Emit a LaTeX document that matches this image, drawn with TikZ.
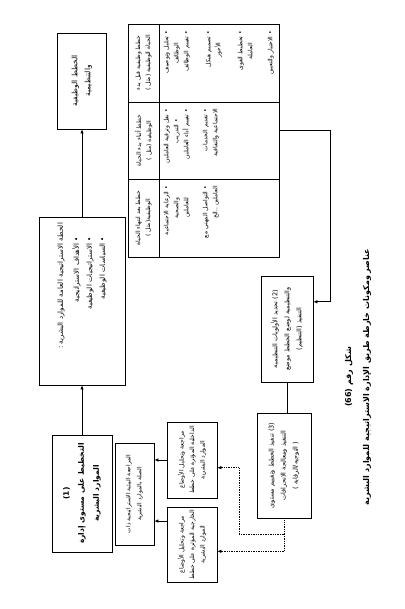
\documentclass[tikz,border=0pt]{standalone}
\usepackage{fontspec}
\setmainfont{DejaVu Sans}
\newfontfamily\arabicfont[Script=Arabic]{DejaVu Sans}
\TeXXeTstate=1
\usepackage{tikz}
\usetikzlibrary{arrows.meta,calc}
\newcommand{\artxt}[1]{\beginR #1\endR}

\begin{document}
\begin{tikzpicture}[x=1pt, y=-1pt,
        boxStyle/.style={draw, line width=0.7pt, rotate=90, align=center, inner sep=2pt, font=\arabicfont\fontsize{7}{13}\selectfont},
        cellStyle/.style={draw, line width=0.7pt, rotate=90, inner sep=0pt},
        cellText/.style={rotate=90, inner sep=0pt, align=right, font=\arabicfont\fontsize{6}{10}\selectfont},
        arrowStyle/.style={-{Latex[length=4pt,width=3.5pt]}, line width=0.7pt},
        dotLine/.style={densely dotted, line width=0.8pt}
    ]
    \useasboundingbox (0,0) rectangle (404,609);

    % Top: plans
    \node[boxStyle, minimum width=96, minimum height=49, font=\arabicfont\fontsize{7.5}{13}\selectfont] (plans) at (82,81) {
        \artxt{الخطط الوظيفية}\\
        \artxt{والتنظيمية}
    };

    % General HR plan
    \node[boxStyle, minimum width=168, minimum height=86, text width=156, align=right] (hrPlan) at (82,301) {
        \artxt{الخطة الاستراتيجية العامة للموارد البشرية :}\\[3pt]
        \artxt{\kern14pt• الأهداف الاستراتيجية}\\
        \artxt{\kern14pt• الاستراتيجيات الوظيفية}\\
        \artxt{\kern14pt• السياسات الوظيفية}
    };

    % Step 1
    \node[boxStyle, minimum width=117, minimum height=60, font=\arabicfont\bfseries\fontsize{7.5}{15}\selectfont] (level1) at (82,493.5) {
        \artxt{(1)}\\
        \artxt{التخطيط على مستوى إدارة}\\
        \artxt{الموارد البشرية}
    };

    % Environmental review
    \node[boxStyle, minimum width=102, minimum height=39, font=\arabicfont\fontsize{5.8}{11}\selectfont] (envReview) at (134.5,494) {
        \artxt{المراجعة البيئية الاستراتيجية ذات}\\
        \artxt{الصلة بالموارد البشرية}
    };

    % Internal / external review
    \node[boxStyle, minimum width=76, minimum height=50, font=\arabicfont\fontsize{6}{10.5}\selectfont] (internalRev) at (192,460) {
        \artxt{مراجعة وتحليل الأوضاع}\\
        \artxt{الداخلية المؤثرة على خطط}\\
        \artxt{الموارد البشرية}
    };
    \node[boxStyle, minimum width=75, minimum height=50, font=\arabicfont\fontsize{6}{10.5}\selectfont] (externalRev) at (192,544.5) {
        \artxt{مراجعة وتحليل الأوضاع}\\
        \artxt{الخارجية المؤثرة على خطط}\\
        \artxt{الموارد البشرية}
    };

    % Table of functional plans
    \node[cellStyle, minimum width=78, minimum height=31] (headBefore) at (143.5,63) {};
    \node[cellStyle, minimum width=77, minimum height=31] (headDuring) at (143.5,140.5) {};
    \node[cellStyle, minimum width=78, minimum height=31] (headAfter) at (143.5,218) {};
    \node[cellStyle, minimum width=78, minimum height=120] (bodyBefore) at (219,63) {};
    \node[cellStyle, minimum width=77, minimum height=120] (bodyDuring) at (219,140.5) {};
    \node[cellStyle, minimum width=78, minimum height=120] (bodyAfter) at (219,218) {};

    \node[cellText, align=center] (headBeforeTxt) at (headBefore) {
        \artxt{خطط وظيفية قبل بدء}\\
        \artxt{الحياة الوظيفية (مثل )}
    };
    \node[cellText, align=center] (headDuringTxt) at (headDuring) {
        \artxt{خطط أثناء بدء الحياة}\\
        \artxt{الوظيفية (مثل )}
    };
    \node[cellText, align=center] (headAfterTxt) at (headAfter) {
        \artxt{خطط بعد انتهاء الحياة}\\
        \artxt{الوظيفية(مثل )}
    };

    \node[cellText, anchor=north east, text width=66] (bodyBeforeTxt) at ($(bodyBefore.north east)+(5,7)$) {
        \artxt{• تحليل وتوصيف}\\
        \artxt{\kern12pt الوظائف}\\
        \artxt{• تقييم الوظائف}\\[12pt]
        \artxt{• تصميم هيكل}\\
        \artxt{\kern12pt الأجور}\\[12pt]
        \artxt{• تخطيط القوى}\\
        \artxt{\kern12pt العاملة}\\[10pt]
        \artxt{• الاختيار والتعيين}
    };
    \node[cellText, anchor=north east, text width=66] (bodyDuringTxt) at ($(bodyDuring.north east)+(5,7)$) {
        \artxt{• نقل وترقية العاملين}\\
        \artxt{\kern10pt• التدريب}\\
        \artxt{• تقييم أداء العاملين}\\[9pt]
        \artxt{• تقديم الخدمات}\\
        \artxt{الاجتماعية والثقافية}
    };
    \node[cellText, anchor=north east, text width=66] (bodyAfterTxt) at ($(bodyAfter.north east)+(5,7)$) {
        \artxt{• الرعاية الاجتماعية}\\
        \artxt{\kern12pt والصحية}\\
        \artxt{\kern12pt للعاملين}\\[9pt]
        \artxt{• التواصل المهني مع}\\
        \artxt{العاملين ..الخ}
    };

    % Step 2 and step 3
    \node[boxStyle, minimum width=106, minimum height=52, font=\arabicfont\fontsize{6.5}{12}\selectfont] (organizing) at (287,329) {
        \artxt{(2) تحديد الأولويات التنظيمية}\\
        \artxt{والتنظيمية لوضع الخطط موضع}\\
        \artxt{التنفيذ (التنظيم)}
    };
    \node[boxStyle, minimum width=105, minimum height=54, font=\arabicfont\fontsize{6.5}{12}\selectfont] (directing) at (284,465.5) {
        \artxt{(3) تنفيذ الخطط وتقييم مستوى}\\
        \artxt{التنفيذ ومعالجة الانحرافات}\\
        \artxt{( التوجيه/الرقابة )}
    };

    % Caption
    \node[rotate=90, align=center, font=\arabicfont\bfseries\fontsize{8}{18}\selectfont] (caption) at (358,377) {
        \artxt{شكل رقم (66)}\\
        \artxt{عناصر ومكونات خارطة طريق الإدارة الاستراتيجية للموارد البشرية}
    };

    % Connectors
    \draw[arrowStyle, thick] (hrPlan.east) -- (plans.west);
    \draw[arrowStyle, thick] (level1.east) -- (hrPlan.west);

    \coordinate (tableOut) at ($(bodyDuring.south east)!0.37!(bodyDuring.south west)$);
    \coordinate (orgIn) at ($(organizing.south east)!0.245!(organizing.south west)$);
    \draw[arrowStyle] (tableOut) -- ++(51,0) |- (orgIn);

    \draw[line width=0.7pt] (organizing.west) -- (organizing.west |- directing.east);

    \coordinate (fork) at ($(directing.west)+(0,16)$);
    \coordinate (intIn) at ($(internalRev.south east)!0.6!(internalRev.south west)$);
    \coordinate (extIn) at ($(externalRev.south east)!0.59!(externalRev.south west)$);
    \draw[dotLine] (directing.west) -- (fork);
    \draw[dotLine, arrowStyle] (fork) -- ++(-45,0) |- (intIn);
    \draw[dotLine, arrowStyle] (fork) |- (extIn);

    \coordinate (extOut) at ($(externalRev.north east)!0.19!(externalRev.north west)$);
    \draw[arrowStyle] (internalRev.north) -- (internalRev.north -| envReview.south);
    \draw[arrowStyle] (extOut) -- (extOut -| envReview.south);
\end{tikzpicture}
\end{document}
